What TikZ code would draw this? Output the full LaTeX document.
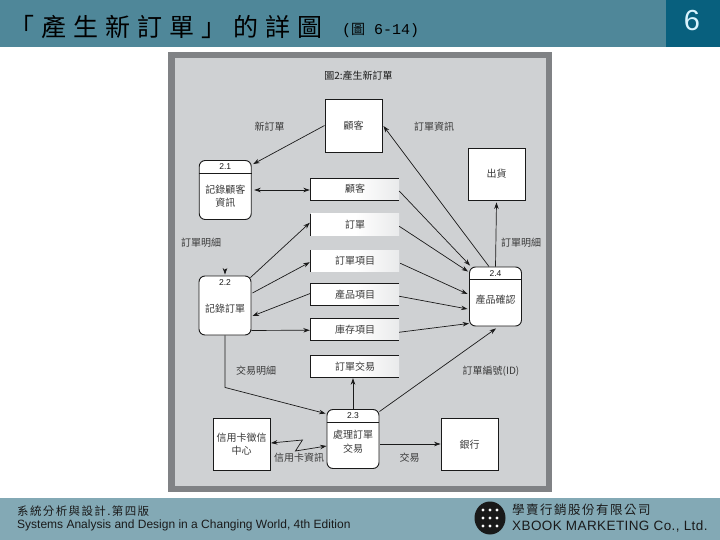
\documentclass[tikz,border=0pt]{standalone}
\usepackage{fontspec}
\usetikzlibrary{arrows.meta,calc}
\setmainfont{Noto Sans CJK TC}
\newfontfamily\latinf{Liberation Sans}
\newfontfamily\monof{Liberation Mono}
\newfontfamily\cjkspaced[LetterSpace=28]{Noto Sans CJK TC}
\newfontfamily\cjkfoot[LetterSpace=12]{Noto Sans CJK TC}
\newfontfamily\latinspaced[LetterSpace=3]{Liberation Sans}
\definecolor{topband}{HTML}{4F8799}
\definecolor{numbox}{HTML}{08607E}
\definecolor{footband}{HTML}{83A9B5}
\definecolor{panelout}{HTML}{808285}
\definecolor{panelin}{HTML}{CFD1D3}
\definecolor{inkc}{HTML}{1A1A1A}
\definecolor{labc}{HTML}{3A3A3A}
\pgfdeclarehorizontalshading{storeshade}{100bp}{color(0bp)=(white); color(55bp)=(white); color(75bp)=(white); color(100bp)=(white!55!panelin); color(125bp)=(panelin); color(150bp)=(panelin)}
\tikzset{
  x=1pt,y=-1pt,
  flow/.style={draw=inkc,line width=0.7pt,-{Stealth[length=6.5pt,width=4.5pt]}},
  dflow/.style={draw=inkc,line width=0.7pt,{Stealth[length=6.5pt,width=4.5pt]}-{Stealth[length=6.5pt,width=4.5pt]}},
  entity/.style={draw=inkc,fill=white,line width=0.9pt,minimum width=57pt,minimum height=52pt,inner sep=0pt,font=\fontsize{10}{13}\selectfont,text=labc,align=center},
  proc/.style={draw=inkc,fill=white,line width=0.9pt,rounded corners=6pt,minimum width=52pt,minimum height=59pt,inner sep=0pt},
  ptext/.style={font=\fontsize{10}{13.5}\selectfont,text=labc,align=center,inner sep=0pt},
  pnum/.style={font=\fontsize{8.5}{10}\selectfont\latinf,text=inkc,inner sep=0pt},
  store/.style={minimum width=88pt,minimum height=21.5pt,inner sep=0pt,shading=storeshade,font=\fontsize{10}{12}\selectfont,text=labc},
  lab/.style={font=\fontsize{10}{12}\selectfont,text=labc,inner sep=0pt},
  stline/.style={draw=inkc,line width=0.8pt},
}
\begin{document}
\begin{tikzpicture}
\useasboundingbox (0,0) rectangle (720,540);
\fill[white] (0,0) rectangle (720,540);
% bands
\fill[topband] (0,0) rectangle (720,47.5);
\fill[numbox] (666,0) rectangle (720,47.5);
\fill[footband] (0,498) rectangle (720,540);
\node[inner sep=0pt,text=white!85!cyan,font=\fontsize{29}{31}\selectfont\latinf] (num) at (692,21) {6};
\node[anchor=west,inner sep=0pt,text=black,font=\fontsize{25}{28}\selectfont\cjkspaced] (ttl) at (9.5,27) {「產生新訂單」的詳圖};
\node[anchor=west,inner sep=0pt,text=black,font=\fontsize{15}{17}\selectfont\monof] (ttlb) at (342,30) {({\fontsize{14}{17}\selectfont\rmfamily 圖} 6-14)};
% panel
\fill[panelout] (168,52) rectangle (552,492);
\fill[panelin] (175,58) rectangle (546,486);
\node[font=\fontsize{10}{12}\selectfont,text=inkc,inner sep=0pt] (ptitle) at (358.5,76) {圖2:產生新訂單};
% entities
\node[entity,minimum height=53pt] (cust) at (353.5,125.5) {顧客};
\node[entity] (ship) at (496.5,174) {出貨};
\node[entity] (credit) at (241.5,444.5) {信用卡徵信\\中心};
\node[entity] (bank) at (469.5,444.5) {銀行};
% stores
\node[store] (s1) at (355,189) {顧客};
\node[store] (s2) at (355,224.75) {訂單};
\node[store] (s3) at (355,260.75) {訂單項目};
\node[store] (s4) at (355,294.75) {產品項目};
\node[store] (s5) at (355,329.75) {庫存項目};
\node[store] (s6) at (355,366.25) {訂單交易};
\foreach \n in {s1,s4,s5,s6}
  \draw[stline] (\n.north east) -- (\n.north west) -- (\n.south west) -- (\n.south east);
\foreach \n in {s2,s3}
  \draw[stline] (\n.north west) -- (\n.south west);
% processes
\node[proc] (p21) at (225.25,190) {};
\node[proc] (p22) at (225,305.5) {};
\node[proc] (p23) at (353,439) {};
\node[proc] (p24) at (495.5,296.5) {};
\draw[stline] ($(p21.north west)+(0,13)$) -- ($(p21.north east)+(0,13)$);
\draw[stline] ($(p23.north west)+(0,13.5)$) -- ($(p23.north east)+(0,13.5)$);
\draw[stline] ($(p24.north west)+(0,13)$) -- ($(p24.north east)+(0,13)$);
\node[pnum] (n21) at (225.25,166.5) {2.1};
\node[pnum] (n22) at (225,283) {2.2};
\node[pnum] (n23) at (353,415.5) {2.3};
\node[pnum] (n24) at (495.5,273.5) {2.4};
\node[ptext] (t21) at (225.25,196) {記錄顧客\\資訊};
\node[ptext] (t22) at (225,309) {記錄訂單};
\node[ptext] (t23) at (353,441.5) {處理訂單\\交易};
\node[ptext] (t24) at (495.5,300) {產品確認};
% flows
\draw[flow] (cust.west) -- ($(p21.north east)+(1.5,4)$);
\draw[flow] ($(p24.north)+(-6.5,0)$) -- ($(cust.east)+(1,0.5)$);
\draw[dflow] ($(p21.east)+(2.5,0)$) -- ($(s1.west)+(-1,1)$);
\draw[flow] ($(s1.east)+(0,2)$) -- ($(p24.north west)+(1,-1)$);
\draw[flow] ($(s2.east)+(0,1.5)$) -- ($(p24.north west)+(-1,5)$);
\draw[flow] ($(p22.north east)+(-1,2)$) -- ($(s2.west)+(-1,-2)$);
\draw[flow] ($(p22.east)+(1,-12.5)$) -- ($(s3.west)+(-1,1.5)$);
\draw[flow] ($(s3.east)+(1,2.5)$) -- ($(p24.west)+(-1.5,-2.5)$);
\draw[flow] ($(s4.west)+(0,-1.5)$) -- ($(p22.east)+(1,10.5)$);
\draw[flow] ($(s4.east)+(0,1.5)$) -- ($(p24.west)+(-1.5,12.5)$);
\draw[flow] ($(p22.south east)+(0,-5)$) -- ($(s5.west)+(-1,0.5)$);
\draw[flow] ($(s5.east)+(0,2.5)$) -- ($(p24.south west)+(0,-3)$);
\draw[flow] (p22.south) -- ($(p22.south)+(0,52)$) -- ($(p23.north west)+(-1,4.5)$);
\draw[flow] (p23.north) -- ($(s6.south)+(-2,1)$);
\draw[flow] ($(p23.north east)+(0,2.5)$) -- ($(p24.south)+(0.5,2)$);
\draw[flow] ($(p23.east)+(1,5)$) -- ($(bank.west)+(0,-0.5)$);
\draw[dflow] ($(credit.east)+(0.5,-1.5)$) -- ($(credit.east)+(32,-4.5)$) -- ($(credit.east)+(25,6.5)$) -- ($(p23.west)+(0,7)$);
\draw[flow] (p24.north) -- ($(ship.south)+(0,2)$);
\coordinate (conf) at ($(p22.north)+(0,-7)$);
\draw[flow] (conf) -- ($(p22.north)+(0,-1)$);
% labels
\node[lab] (l1) at (269.5,127) {新訂單};
\node[lab] (l2) at (434,127) {訂單資訊};
\node[lab] (l3) at (201,243) {訂單明細};
\node[lab] (l4) at (521,242.5) {訂單明細};
\node[lab] (l5) at (256,371) {交易明細};
\node[lab] (l6) at (491,371) {訂單編號(ID)};
\node[lab] (l7) at (299,458) {信用卡資訊};
\node[lab] (l8) at (409.5,458) {交易};
% footer
\node[anchor=west,inner sep=0pt,text=inkc,font=\fontsize{11.5}{13}\selectfont\cjkfoot] (f1) at (17,511) {系統分析與設計.第四版};
\node[anchor=west,inner sep=0pt,text=inkc,font=\fontsize{12}{14}\selectfont\latinf] (f2) at (17,525.5) {Systems Analysis and Design in a Changing World, 4th Edition};
\node[anchor=west,inner sep=0pt,text=inkc,font=\fontsize{12.5}{14}\selectfont\cjkfoot] (f3) at (512,510) {學賣行銷股份有限公司};
\node[anchor=west,inner sep=0pt,text=inkc,font=\fontsize{13.5}{15}\selectfont\latinspaced] (f4) at (512,526) {XBOOK MARKETING Co., Ltd.};
% logo
\fill[black!90] (490,518) ellipse [x radius=15.5pt,y radius=16.5pt];
\foreach \dx in {-7,0,7}\foreach \dy in {-8,0,8}
  \fill[white] (490+\dx,518+\dy) circle (1.7pt);
\end{tikzpicture}
\end{document}
